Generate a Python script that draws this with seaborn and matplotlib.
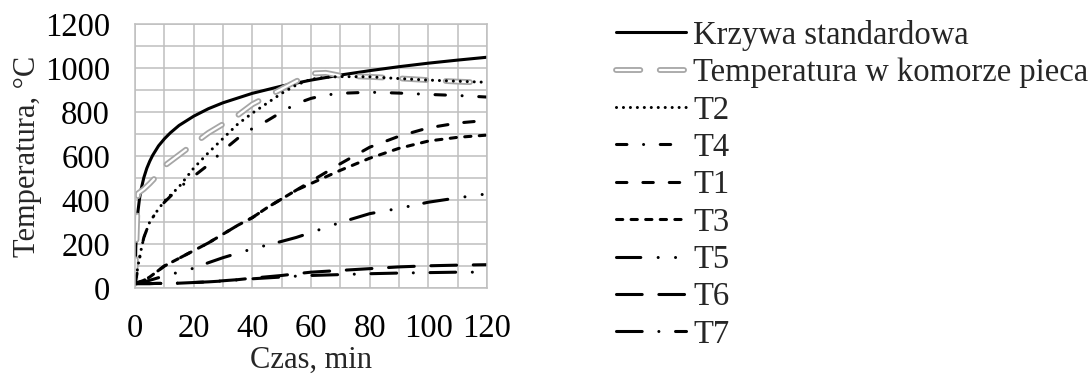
import numpy as np
import pandas as pd
import seaborn as sns
import matplotlib
matplotlib.use('Agg')
import matplotlib.pyplot as plt
import matplotlib.patheffects as pe
from matplotlib.ticker import MultipleLocator

# czas krzywej standardowej, min
t_std = [0, 0.25, 0.5, 1, 1.5, 2, 3, 4, 5, 6, 8, 10, 12, 15, 20, 25, 30,
         40, 50, 60, 70, 80, 90, 100, 110, 120]
krzywa_std = [20, 185, 261, 349, 404, 445, 502, 544, 576, 603, 646, 678, 705,
              739, 781, 815, 842, 885, 918, 945, 968, 988, 1006, 1022, 1036, 1049]

# czas pomiaru, min
t_pom = [0, 1, 2, 3, 5, 7.5, 10, 15, 20, 25, 30, 35, 40, 45, 50, 55, 60, 65,
         70, 80, 90, 100, 110, 120]
piec = [20, 430, 440, 450, 475, 510, 555, 605, 655, 705, 745, 785, 835, 870,
        905, 940, 975, 978, 965, 960, 953, 945, 938, 933]
T2 = [20, 100, 170, 230, 300, 350, 395, 460, 545, 615, 680, 745, 795, 840,
      885, 923, 949, 958, 961, 960, 952, 945, 940, 935]
T4 = [20, 90, 170, 230, 300, 350, 390, 455, 508, 560, 625, 680, 725, 760,
      800, 838, 862, 877, 885, 890, 886, 880, 875, 868]
T1 = [20, 25, 30, 35, 50, 75, 100, 135, 170, 205, 245, 285, 320, 365, 405,
      445, 485, 525, 565, 640, 690, 728, 750, 762]
T3 = [20, 25, 30, 35, 50, 75, 100, 135, 170, 205, 245, 285, 320, 365, 405,
      445, 475, 505, 535, 590, 635, 668, 685, 695]
T5 = [20, 22, 25, 28, 35, 45, 55, 72, 90, 115, 138, 158, 178, 195, 212, 230,
      252, 275, 298, 338, 362, 390, 410, 428]
T6 = [20, 20, 20, 20, 20, 21, 21, 22, 25, 28, 33, 38, 45, 51, 57, 65, 72, 76,
      80, 88, 96, 101, 104, 106]
T7 = [20, 20, 20, 20, 20, 21, 21, 22, 25, 28, 32, 37, 42, 46, 50, 54, 57, 59,
      61, 65, 68, 70, 72, 72]

sns.set_style('white')
plt.rcParams['font.family'] = ['Liberation Serif', 'DejaVu Serif']
plt.rcParams['lines.scale_dashes'] = False

fig, ax = plt.subplots(figsize=(10.9, 3.74), dpi=100)
fig.subplots_adjust(left=0.1239, right=0.4468, bottom=0.2299, top=0.9358)

lw = 2.2
# (etykieta, czas, wartosci, kolor, styl linii)
serie = [
    ('Krzywa standardowa', t_std, krzywa_std, 'black', '-'),
    ('Temperatura w komorze pieca', t_pom, piec, 'white', (0, (17.5, 14))),
    ('T2', t_pom, T2, 'black', (0, (0.01, 5))),
    ('T4', t_pom, T4, 'black', (0, (7.5, 12, 0.01, 12))),
    ('T1', t_pom, T1, 'black', (0, (7.5, 11.5))),
    ('T3', t_pom, T3, 'black', (0, (4.5, 6))),
    ('T5', t_pom, T5, 'black', (0, (17.5, 12.5, 0.01, 12.5, 0.01, 11.5))),
    ('T6', t_pom, T6, 'black', (0, (18.5, 12))),
    ('T7', t_pom, T7, 'black', (0, (18.5, 12, 0.01, 12))),
]

for nazwa, t, y, kolor, styl in serie:
    sns.lineplot(x=t, y=y, ax=ax, color=kolor, linestyle=styl, linewidth=lw,
                 label=nazwa, sort=False, estimator=None,
                 dash_capstyle='round', solid_capstyle='round')
    if nazwa.startswith('Temperatura'):
        ax.lines[-1].set_path_effects([
            pe.Stroke(linewidth=4.2, foreground='#a6a6a6'),
            pe.Stroke(linewidth=1.6, foreground='white')])

ax.set_xlim(0, 120)
ax.set_ylim(0, 1200)
ax.xaxis.set_major_locator(MultipleLocator(20))
ax.xaxis.set_minor_locator(MultipleLocator(10))
ax.yaxis.set_major_locator(MultipleLocator(200))
ax.yaxis.set_minor_locator(MultipleLocator(100))
ax.grid(which='both', color='#bfbfbf', linewidth=1.1)
ax.set_axisbelow(True)
for s in ax.spines.values():
    s.set_color('#bfbfbf')
    s.set_linewidth(1.1)
ax.tick_params(which='major', direction='out', length=7, width=1.1,
               color='#bfbfbf', labelsize=23.5, pad=11, labelcolor='black')
ax.tick_params(which='minor', length=0)

ax.set_xlabel('Czas, min', fontsize=22, labelpad=2)
ax.set_ylabel('Temperatura, °C', fontsize=22, labelpad=2)

handles, labels = ax.get_legend_handles_labels()
ax.legend(handles, labels, loc='upper left', bbox_to_anchor=(0.565, 0.947),
          bbox_transform=fig.transFigure, frameon=False, fontsize=23.5,
          handlelength=2.15, handletextpad=0.22, labelspacing=0.21,
          borderpad=0, borderaxespad=0)

fig.savefig('out.png', dpi=100)
